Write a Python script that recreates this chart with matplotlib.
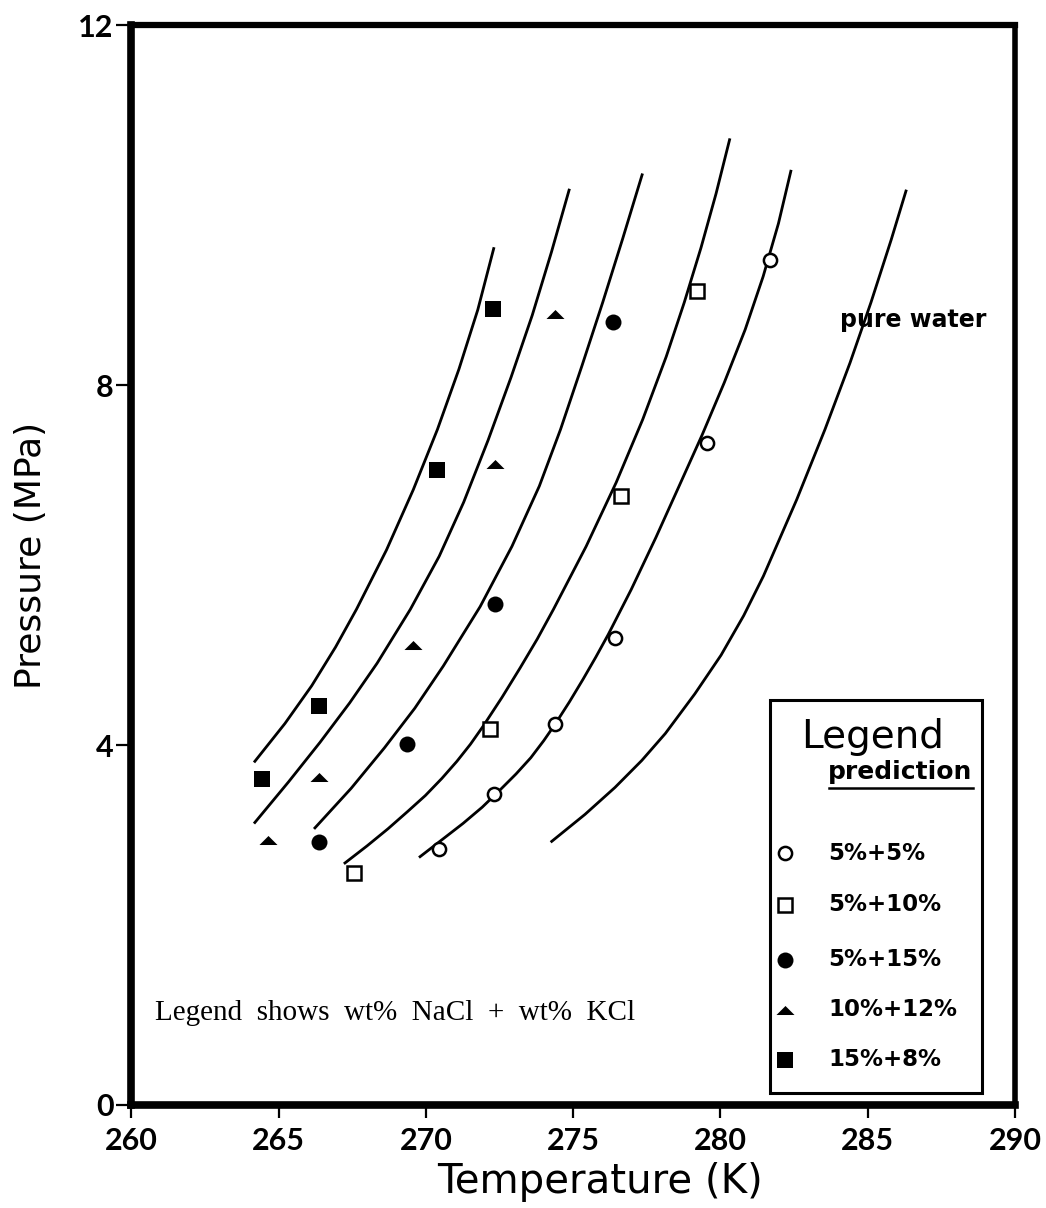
import matplotlib
matplotlib.use("Agg")
import matplotlib.pyplot as plt
from matplotlib.patches import Rectangle
from matplotlib.lines import Line2D

# prediction curves, temperature (K) vs pressure (MPa)
curve1_T = [264.19, 265.21, 266.12, 266.93, 267.64, 268.66, 269.57, 270.39, 271.12, 271.76, 272.30]
curve1_P = [3.82, 4.24, 4.66, 5.09, 5.51, 6.17, 6.84, 7.51, 8.18, 8.84, 9.52]

curve2_T = [264.19, 265.33, 266.40, 267.41, 268.34, 269.47, 270.45, 271.28, 272.11, 272.89, 273.61, 274.26, 274.86]
curve2_P = [3.14, 3.59, 4.03, 4.47, 4.91, 5.51, 6.10, 6.70, 7.39, 8.09, 8.78, 9.48, 10.17]

curve3_T = [266.23, 267.46, 268.59, 269.62, 270.59, 271.84, 272.92, 273.85, 274.57, 275.30, 276.00, 276.68, 277.34]
curve3_P = [3.08, 3.52, 3.97, 4.41, 4.88, 5.54, 6.21, 6.88, 7.51, 8.22, 8.92, 9.63, 10.34]

curve4_T = [267.25, 268.00, 268.71, 269.37, 269.98, 270.54, 271.05, 271.51, 271.94, 272.58, 273.20,
            273.78, 274.33, 275.44, 276.46, 277.36, 278.16, 278.77, 279.34, 279.85, 280.31]
curve4_P = [2.69, 2.88, 3.07, 3.26, 3.44, 3.63, 3.82, 4.01, 4.21, 4.53, 4.86,
            5.18, 5.51, 6.21, 6.92, 7.62, 8.32, 8.92, 9.53, 10.13, 10.73]

curve5_T = [269.80, 270.55, 271.26, 271.91, 272.51, 273.06, 273.56, 274.00, 274.38, 274.87, 275.33,
            275.77, 276.19, 276.97, 277.81, 278.61, 279.38, 280.13, 280.84, 281.45, 281.97, 282.39]
curve5_P = [2.76, 2.95, 3.13, 3.31, 3.50, 3.68, 3.86, 4.05, 4.23, 4.48, 4.73,
            4.98, 5.23, 5.73, 6.31, 6.89, 7.45, 8.03, 8.62, 9.21, 9.80, 10.38]

# pure water
curve6_T = [274.27, 275.40, 276.42, 277.33, 278.13, 279.13, 280.02, 280.79, 281.46, 282.59, 283.55, 284.40, 285.11, 285.80, 286.30]
curve6_P = [2.93, 3.23, 3.53, 3.83, 4.13, 4.57, 5.00, 5.44, 5.88, 6.73, 7.51, 8.25, 8.92, 9.62, 10.16]

# experimental points (wt% NaCl + wt% KCl)
labels = ["5%+5%", "5%+10%", "5%+15%", "10%+12%", "15%+8%"]

T_5_5 = [270.45, 272.32, 274.38, 276.42, 279.53, 281.68]
P_5_5 = [2.84, 3.46, 4.23, 5.19, 7.36, 9.39]

T_5_10 = [267.57, 272.17, 276.61, 279.19]
P_5_10 = [2.58, 4.18, 6.77, 9.05]

T_5_15 = [266.38, 269.34, 272.34, 276.36]
P_5_15 = [2.92, 4.01, 5.57, 8.70]

T_10_12 = [264.62, 266.38, 269.55, 272.34, 274.38]
P_10_12 = [2.95, 3.65, 5.11, 7.12, 8.79]

T_15_8 = [264.44, 266.38, 270.36, 272.29]
P_15_8 = [3.62, 4.43, 7.06, 8.85]

plt.rcParams["font.family"] = ["Lato", "DejaVu Sans"]
wide = ["DejaVu Sans"]

fig = plt.figure(figsize=(10.46, 12.08), dpi=100)
ax = fig.add_axes([0.1257, 0.0853, 0.8446, 0.8936])

for T, P in [(curve1_T, curve1_P), (curve2_T, curve2_P), (curve3_T, curve3_P),
             (curve4_T, curve4_P), (curve5_T, curve5_P), (curve6_T, curve6_P)]:
    ax.plot(T, P, color="black", lw=2.0, solid_joinstyle="round")

tri = [(-1, -0.5), (1, -0.5), (0, 0.5), (-1, -0.5)]
styles = [
    dict(marker="o", ms=9.5, mfc="white", mec="black", mew=1.8),
    dict(marker="s", ms=10, mfc="white", mec="black", mew=1.8),
    dict(marker="o", ms=11.5, mfc="black", mec="black", mew=0),
    dict(marker=tri, ms=13, mfc="black", mec="black", mew=0),
    dict(marker="s", ms=11, mfc="black", mec="black", mew=0),
]
series = [(T_5_5, P_5_5), (T_5_10, P_5_10), (T_5_15, P_5_15),
          (T_10_12, P_10_12), (T_15_8, P_15_8)]
for (T, P), st in zip(series, styles):
    ax.plot(T, P, ls="none", zorder=3, **st)

ax.set_xlim(260, 290)
ax.set_ylim(0, 12)
ax.set_xticks([260, 265, 270, 275, 280, 285, 290])
ax.set_yticks([0, 4, 8, 12])
ax.tick_params(axis="x", length=9, width=1.6, pad=7, labelsize=22)
ax.tick_params(axis="y", length=11, width=1.6, pad=2, labelsize=22)
for lab in ax.get_xticklabels() + ax.get_yticklabels():
    lab.set_fontweight("bold")

ax.spines["left"].set_linewidth(5.5)
ax.spines["bottom"].set_linewidth(5.5)
ax.spines["top"].set_linewidth(4.5)
ax.spines["right"].set_linewidth(4)

ax.set_xlabel("Temperature (K)", family=wide, fontsize=29)
ax.xaxis.set_label_coords(0.530, -0.053)
ax.set_ylabel("Pressure (MPa)", family=wide, fontsize=26)
ax.yaxis.set_label_coords(-0.0945, 0.509)

ax.text(284.06, 8.73, "pure water", family=wide, fontsize=17, fontweight="bold",
        va="center", ha="left")
ax.text(260.8, 1.02, "Legend  shows  wt%  NaCl  +  wt%  KCl",
        family=["Liberation Serif", "DejaVu Serif"], fontsize=21, va="center", ha="left")

# hand-drawn legend box
ax.add_patch(Rectangle((0.7227, 0.0111), 0.2399, 0.3641, transform=ax.transAxes,
                       fill=False, lw=2.2, ec="black", zorder=4))
ax.text(0.8387, 0.341, "Legend", transform=ax.transAxes, family=wide, fontsize=28,
        ha="center", va="center")
ax.text(0.870, 0.308, "prediction", transform=ax.transAxes, family=wide, fontsize=18,
        fontweight="bold", ha="center", va="center")
ax.add_line(Line2D([0.789, 0.953], [0.2937, 0.2937], transform=ax.transAxes, color="black", lw=1.8))
row_y = [0.2334, 0.1853, 0.1343, 0.0880, 0.0417]
for y, lab, st in zip(row_y, labels, styles):
    ax.plot([0.7397], [y], transform=ax.transAxes, ls="none", clip_on=False, **st)
    ax.text(0.7886, y, lab, transform=ax.transAxes, family=wide, fontsize=16.5,
            fontweight="bold", ha="left", va="center")

fig.savefig("out.png", dpi=100)
